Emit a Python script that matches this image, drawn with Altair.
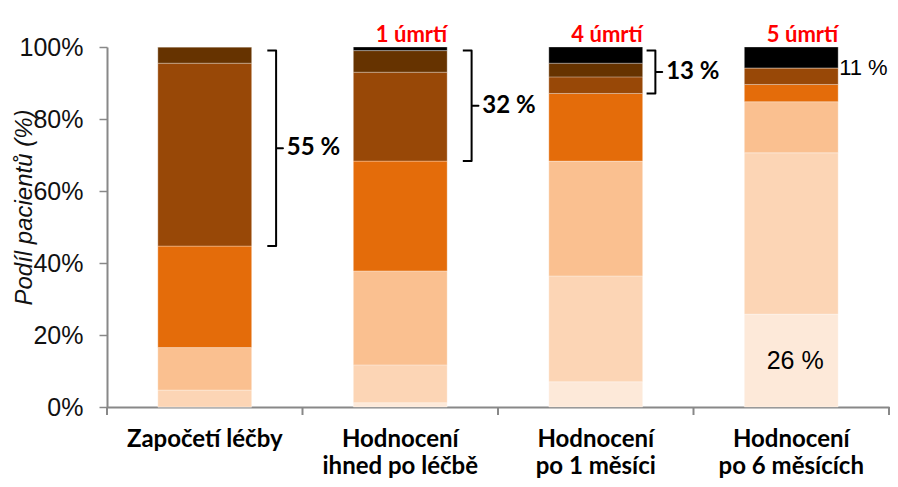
import altair as alt
import pandas as pd

# ---- data ----
categories = ["Započetí léčby", "Hodnocení|ihned po léčbě", "Hodnocení|po 1 měsíci", "Hodnocení|po 6 měsících"]
stages = ["stupeň 1", "stupeň 2", "stupeň 3", "stupeň 4", "stupeň 5", "stupeň 6", "úmrtí"]
colors = ["#FDE9D9", "#FCD5B5", "#FAC090", "#E46C0A", "#984807", "#663300", "#000000"]

s1 = [0.0, 1.2, 7.0, 25.8]
s2 = [4.7, 10.5, 29.4, 44.8]
s3 = [11.8, 26.1, 31.9, 14.2]
s4 = [28.2, 30.5, 18.8, 4.8]
s5 = [50.8, 24.7, 4.6, 4.6]
s6 = [4.5, 6.0, 3.8, 0.0]
s7 = [0.0, 1.0, 4.5, 5.8]
series = [s1, s2, s3, s4, s5, s6, s7]

death_labels = ["", "1 úmrtí", "4 úmrtí", "5 úmrtí"]
bracket_labels = ["55 %", "32 %", "13 %"]
side_label = "11 %"
base_label = "26 %"

# ---- layout constants (band geometry in step units) ----
BAR_HALF = 0.24
brace_shift = [0.0, 0.0, -0.06]
slot_edges = [0, 1, 2, 3, 4]

rows = []
for j, (st, vals) in enumerate(zip(stages, series)):
    for i, cat in enumerate(categories):
        rows.append({"cat": cat, "stage": st, "value": vals[i], "order": j})
bars_df = pd.DataFrame(rows)

ydom = alt.Scale(domain=[0, 100], nice=False, zero=True)
xq = alt.Scale(domain=[0, 4], nice=False, zero=False)

bars = alt.Chart(bars_df).mark_bar(stroke="white", strokeWidth=0.6, strokeOpacity=0.5).encode(
    x=alt.X("cat:N", sort=categories,
            scale=alt.Scale(paddingInner=0.52, paddingOuter=0.26),
            axis=alt.Axis(title=None, labelExpr="split(datum.label, '|')", labelAngle=0,
                          labelFont="Lato", labelFontWeight="bold", labelFontSize=24,
                          labelColor="#000000", labelLineHeight=27, labelPadding=20,
                          ticks=False, domainColor="#888888", domainWidth=2)),
    y=alt.Y("value:Q", stack="zero", scale=ydom,
            axis=alt.Axis(values=[0, 20, 40, 60, 80, 100], labelExpr="datum.value + '%'",
                          labelFont="Liberation Sans", labelFontSize=25, labelColor="#111111",
                          labelPadding=16, tickSize=8, tickColor="#888888", tickWidth=1.5,
                          domainColor="#888888", domainWidth=2, grid=False,
                          title="Podíl pacientů (%)", titleFont="Liberation Sans",
                          titleFontStyle="italic", titleFontWeight="normal", titleFontSize=24,
                          titleColor="#111111", titleAngle=270, titleAlign="center",
                          titleBaseline="middle", titleX=-83, titleY=160)),
    color=alt.Color("stage:N", scale=alt.Scale(domain=stages, range=colors), legend=None),
    order=alt.Order("order:Q", sort="ascending"),
)

# category-boundary tick marks under the x axis
ticks_df = pd.DataFrame({"px": slot_edges})
xticks = alt.Chart(ticks_df).mark_rule(color="#888888", strokeWidth=2).encode(
    x=alt.X("px:Q", scale=xq, axis=None),
    y=alt.value(360),
    y2=alt.value(368),
)

# brackets (curly braces) spanning the top categories
brace_rows = []
label_rows = []
for i, lab in enumerate(bracket_labels):
    top_group = s5[i] + s6[i] + s7[i]
    e = i + 0.5 + BAR_HALF + brace_shift[i]
    top = 99.0
    bot = 100.0 - top_group
    mid = (top + bot) / 2
    hook, vert, tip, txt = e + 0.08, e + 0.125, e + 0.16, e + 0.18
    pts = [(hook, top), (vert, top), (vert, mid), (tip, mid), (vert, mid), (vert, bot), (hook, bot)]
    for k, (px, py) in enumerate(pts):
        brace_rows.append({"b": i, "k": k, "px": px, "py": py})
    label_rows.append({"px": txt, "py": mid, "t": lab})
brace_df = pd.DataFrame(brace_rows)
blabel_df = pd.DataFrame(label_rows)

braces = alt.Chart(brace_df).mark_line(color="black", strokeWidth=2, strokeJoin="round").encode(
    x=alt.X("px:Q", scale=xq, axis=None),
    y=alt.Y("py:Q", scale=ydom),
    detail="b:N",
    order="k:Q",
)

brace_text = alt.Chart(blabel_df).mark_text(align="left", baseline="middle", font="Lato",
                                             fontWeight="bold", fontSize=24, color="black").encode(
    x=alt.X("px:Q", scale=xq, axis=None),
    y=alt.Y("py:Q", scale=ydom),
    text="t:N",
)

death_df = pd.DataFrame([
    {"px": i + 0.5 + BAR_HALF, "py": 100.0, "t": t} for i, t in enumerate(death_labels) if t
])
death_text = alt.Chart(death_df).mark_text(align="right", baseline="alphabetic", dy=-5, font="Lato",
                                            fontWeight="bold", fontSize=22, color="#FF0000").encode(
    x=alt.X("px:Q", scale=xq, axis=None),
    y=alt.Y("py:Q", scale=ydom),
    text="t:N",
)

side_df = pd.DataFrame([
    {"px": 3 + 0.5 + BAR_HALF + 0.005, "py": 100.0 - (s5[3] + s6[3] + s7[3]) / 2 - 0.5, "t": side_label},
])
side_text = alt.Chart(side_df).mark_text(align="left", baseline="middle", font="Liberation Sans",
                                         fontSize=22, color="black").encode(
    x=alt.X("px:Q", scale=xq, axis=None),
    y=alt.Y("py:Q", scale=ydom),
    text="t:N",
)

base_df = pd.DataFrame([{"px": 3.52, "py": s1[3] / 2, "t": base_label}])
base_text = alt.Chart(base_df).mark_text(align="center", baseline="middle", font="Liberation Sans",
                                         fontSize=25, color="black").encode(
    x=alt.X("px:Q", scale=xq, axis=None),
    y=alt.Y("py:Q", scale=ydom),
    text="t:N",
)

chart = alt.layer(bars, xticks, braces, brace_text, death_text, side_text, base_text).resolve_scale(
    x="independent"
).properties(
    width=782, height=360,
    autosize=alt.AutoSizeParams(type="none"),
    padding={"left": 99, "top": 39, "right": 1, "bottom": 72},
).configure_view(stroke=None)

chart.save("out.html", embed_options={"renderer": "svg", "actions": False})
